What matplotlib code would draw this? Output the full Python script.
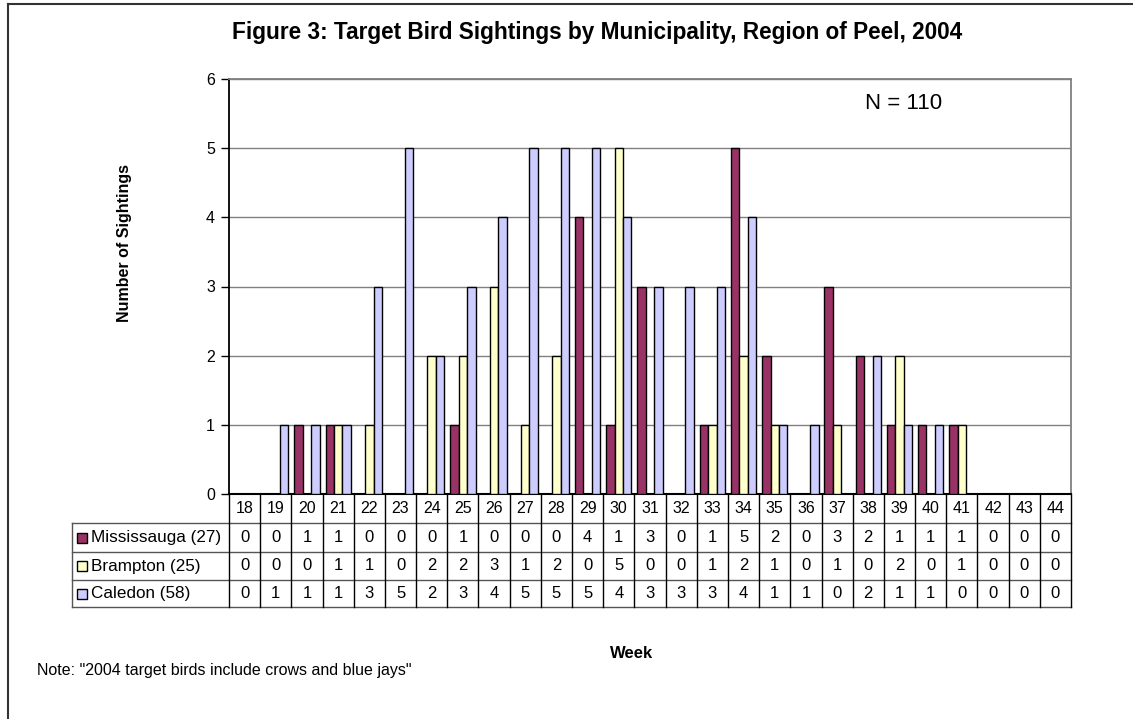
import numpy as np
import matplotlib
matplotlib.use("Agg")
import matplotlib.pyplot as plt
from matplotlib.lines import Line2D
from matplotlib.patches import Rectangle

plt.rcParams['font.family'] = ['Liberation Sans', 'DejaVu Sans']

weeks = [str(w) for w in range(18, 45)]
mississauga = [0, 0, 1, 1, 0, 0, 0, 1, 0, 0, 0, 4, 1, 3, 0, 1, 5, 2, 0, 3, 2, 1, 1, 1, 0, 0, 0]
brampton = [0, 0, 0, 1, 1, 0, 2, 2, 3, 1, 2, 0, 5, 0, 0, 1, 2, 1, 0, 1, 0, 2, 0, 1, 0, 0, 0]
caledon = [0, 1, 1, 1, 3, 5, 2, 3, 4, 5, 5, 5, 4, 3, 3, 3, 4, 1, 1, 0, 2, 1, 1, 0, 0, 0, 0]
series_names = ["Mississauga (27)", "Brampton (25)", "Caledon (58)"]
series_vals = [mississauga, brampton, caledon]
colors = ["#993366", "#FFFFCC", "#CCCCFF"]

title = "Figure 3: Target Bird Sightings by Municipality, Region of Peel, 2004"

FW, FH = 1133, 719
fig = plt.figure(figsize=(FW / 100, FH / 100), dpi=100)
px_l, px_r, px_t, px_b = 229, 1071, 79, 494
ax = fig.add_axes([px_l / FW, 1 - px_b / FH, (px_r - px_l) / FW, (px_b - px_t) / FH])

n = len(weeks)
x = np.arange(n)
w = 0.27
for k, (vals, c) in enumerate(zip(series_vals, colors)):
    ax.bar(x + (k - 1) * w, vals, width=w, color=c, edgecolor='black', linewidth=1, zorder=3)

ax.set_xlim(-0.5, n - 0.5)
ax.set_ylim(0, 6)
ax.set_yticks(range(0, 7))
ax.tick_params(axis='y', length=6, width=1, direction='out', labelsize=11.5, pad=4)
ax.set_xticks([])
ax.grid(axis='y', color='#808080', linewidth=1, zorder=0)
ax.set_axisbelow(True)
for s in ['top', 'right']:
    ax.spines[s].set_color('#808080')
    ax.spines[s].set_linewidth(1.3)
ax.spines['left'].set_color('black')
ax.spines['left'].set_linewidth(1.3)
ax.spines['bottom'].set_color('black')
ax.spines['bottom'].set_linewidth(1.5)

ax.text(0.801, 0.942, "N = 110", transform=ax.transAxes, fontsize=16, ha='center', va='center')

# data table under the axes
axh = px_b - px_t
axw = px_r - px_l
def fy(py):
    return (px_b - py) / axh
def fx(pxv):
    return (pxv - px_l) / axw

row_edges_px = [494, 523, 552, 580, 607]
ye = [fy(p) for p in row_edges_px]
lab_left = fx(72)
kw = dict(transform=ax.transAxes, clip_on=False)

# horizontal lines
ax.add_line(Line2D([0, 1], [ye[1], ye[1]], color='#555555', lw=1, **kw))
ax.add_line(Line2D([lab_left, 0], [ye[1], ye[1]], color='#555555', lw=1, **kw))
for yy in ye[2:]:
    ax.add_line(Line2D([lab_left, 1], [yy, yy], color='#555555', lw=1, **kw))
# vertical lines
for i in range(n + 1):
    ax.add_line(Line2D([i / n, i / n], [ye[0], ye[-1]], color='black', lw=1, **kw))
ax.add_line(Line2D([lab_left, lab_left], [ye[1], ye[-1]], color='#555555', lw=1, **kw))

for i, wk in enumerate(weeks):
    ax.text((i + 0.5) / n, (ye[0] + ye[1]) / 2, wk, ha='center', va='center', fontsize=11.5, **kw)
    for r, vals in enumerate(series_vals):
        ax.text((i + 0.5) / n, (ye[r + 1] + ye[r + 2]) / 2, str(vals[i]), ha='center', va='center',
                fontsize=12, **kw)

sq_w = 10 / axw
sq_h = 10 / axh
for r, (name, c) in enumerate(zip(series_names, colors)):
    yc = (ye[r + 1] + ye[r + 2]) / 2
    ax.add_patch(Rectangle((fx(77), yc - sq_h / 2), sq_w, sq_h, facecolor=c, edgecolor='black', lw=1,
                           transform=ax.transAxes, clip_on=False))
    ax.text(fx(91), yc, name, ha='left', va='center', fontsize=12.3, **kw)

fig.text(597 / FW, 1 - 32 / FH, title, ha='center', va='center', fontsize=16.3, fontweight='bold')
fig.text(125 / FW, 1 - 243 / FH, "Number of Sightings", rotation=90, ha='center', va='center',
         fontsize=11.5, fontweight='bold')
fig.text(632 / FW, 1 - 653 / FH, "Week", ha='center', va='center', fontsize=12, fontweight='bold')
fig.text(37 / FW, 1 - 671 / FH, 'Note: "2004 target birds include crows and blue jays"', ha='left',
         va='center', fontsize=11.5)

# outer frame (top and left visible)
fig.add_artist(Line2D([8 / FW, 8 / FW], [0, 1 - 4 / FH], color='#333333', lw=1.5, transform=fig.transFigure))
fig.add_artist(Line2D([8 / FW, 1], [1 - 4 / FH, 1 - 4 / FH], color='#333333', lw=1.5, transform=fig.transFigure))

fig.savefig("out.png", dpi=100)
